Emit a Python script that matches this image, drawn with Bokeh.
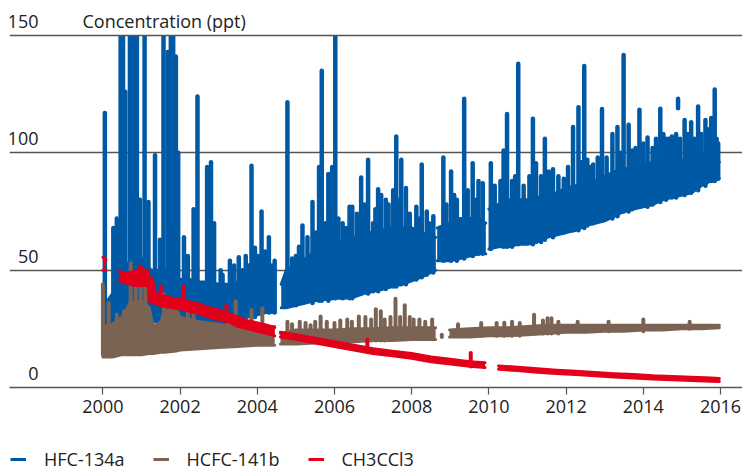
from bokeh.plotting import figure
from bokeh.layouts import column
from bokeh.models import Range1d, FixedTicker, Label, Legend, LegendItem, BoxAnnotation, Span
from bokeh.embed import file_html
from bokeh.resources import INLINE

nan = float("nan")

x_ticks = [2000, 2002, 2004, 2006, 2008, 2010, 2012, 2014, 2016]
y_ticks = [0, 50, 100, 150]
y_tick_labels = ["0", "50", "100", "150"]
y_title = "Concentration (ppt)"
series_names = ["HFC-134a", "HCFC-141b", "CH3CCl3"]

# ---------------- HFC-134a (dense band: lower/upper envelope) ----------------
hfc_years = [2000.0, 2000.25, 2000.5, 2000.75, 2001.0, 2001.25, 2001.5, 2001.75, 2002.0, 2002.25,
             2002.5, 2002.75, 2003.0, 2003.25, 2003.5, 2003.75, 2004.0, 2004.25, 2004.45, nan,
             2004.62, 2004.75, 2005.0, 2005.25, 2005.5, 2005.75, 2006.0, 2006.25, 2006.5, 2006.75,
             2007.0, 2007.25, 2007.5, 2007.75, 2008.0, 2008.25, 2008.5, 2008.62, nan,
             2008.66, 2009.0, 2009.25, 2009.5, 2009.75, 2009.92, nan,
             2010.0, 2010.25, 2010.5, 2010.75, 2011.0, 2011.25, 2011.5, 2011.75, 2012.0, 2012.25,
             2012.5, 2012.75, 2013.0, 2013.25, 2013.5, 2013.75, 2014.0, 2014.25, 2014.5, 2014.75,
             2015.0, 2015.25, 2015.5, 2015.75, 2015.97]
hfc_low = [27, 27, 27, 28, 28, 28, 28, 28, 28, 28,
           28, 28, 27, 28, 29, 30, 31, 32, 32, nan,
           34, 34, 35, 36, 37, 37.5, 38, 38, 38.5, 40,
           41, 42, 43, 44, 45.5, 47, 49, 50, nan,
           54, 54, 55, 56, 57, 57, nan,
           59, 60, 60, 61, 61, 62, 64, 65, 66, 67,
           69, 70, 71, 73, 75, 76, 77, 78, 80, 81,
           82, 83, 86, 88, 89]
hfc_high = [34, 40, 50, 55, 55, 50, 50, 50, 46, 46,
            45, 45, 44, 44, 45, 46, 47, 48, 46, nan,
            44, 50, 52, 55, 58, 60, 62, 62, 64, 66,
            66, 67, 68, 68, 68, 66, 65, 64, nan,
            68, 70, 72, 72, 72, 70, nan,
            76, 78, 80, 80, 80, 81, 82, 83, 85, 86,
            88, 88, 90, 92, 93, 94, 95, 96, 97, 97,
            97, 98, 99, 100, 96]
# peaks (year, from, to); 160 = beyond the top of the chart
hfc_spike_years = [2000.05, 2000.27, 2000.36, 2000.46, 2000.52, 2000.58, 2000.70, 2000.76, 2000.82, 2000.88,
                   2000.96, 2001.08, 2001.18, 2001.35, 2001.48, 2001.57, 2001.68, 2001.76, 2001.82, 2001.89,
                   2001.95, 2002.10, 2002.20, 2002.35, 2002.45, 2002.70, 2002.80, 2002.88, 2003.10, 2003.29,
                   2003.52, 2003.70, 2003.85, 2003.94, 2004.11, 2004.30, 2004.45, 2004.78, 2005.00, 2005.17,
                   2005.43, 2005.60, 2005.67, 2005.84, 2005.94, 2006.02, 2006.21, 2006.39, 2006.46, 2006.69,
                   2006.87, 2007.00, 2007.13, 2007.21, 2007.33, 2007.52, 2007.60, 2007.73, 2007.85, 2008.12,
                   2008.26, 2008.39, 2008.56, 2008.82, 2009.02, 2009.17, 2009.36, 2009.58, 2009.73, 2009.84,
                   2010.05, 2010.38, 2010.47, 2010.60, 2010.76, 2011.14, 2011.22, 2011.35, 2011.45, 2011.66,
                   2011.94, 2012.18, 2012.32, 2012.47, 2012.55, 2012.70, 2012.93, 2013.20, 2013.33, 2013.49,
                   2013.62, 2013.71, 2013.90, 2014.11, 2014.24, 2014.44, 2014.59, 2014.74, 2014.85, 2014.90,
                   2015.07, 2015.24, 2015.42, 2015.61, 2015.76, 2015.85, 2015.94,
                   2003.05, 2003.40, 2003.62, 2003.78, 2004.02, 2004.20, 2004.38,
                   2004.90, 2005.08, 2005.30, 2005.52, 2005.76, 2006.10, 2006.30, 2006.58, 2006.78, 2007.06,
                   2007.40, 2007.68, 2007.95, 2008.20, 2008.45, 2008.90, 2009.10, 2009.45, 2009.66, 2010.15,
                   2010.30, 2010.68, 2010.90, 2011.05, 2011.55, 2011.80, 2012.05, 2012.40, 2012.62, 2012.82,
                   2013.05, 2013.40, 2013.80, 2014.00, 2014.33, 2014.52, 2014.66, 2014.95, 2015.15, 2015.33,
                   2015.50, 2015.68, 2015.90]
hfc_spike_from = [28, 30, 30, 30, 30, 30, 30, 30, 30, 30,
                  30, 30, 30, 30, 30, 30, 30, 30, 30, 30,
                  30, 30, 30, 30, 30, 30, 30, 30, 30, 30,
                  30, 30, 30, 30, 32, 32, 32, 35, 35, 36,
                  36, 37, 37, 37, 38, 38, 38, 38, 38, 40,
                  40, 41, 41, 42, 42, 43, 43, 44, 44, 46,
                  47, 48, 49, 54, 54, 54, 55, 56, 57, 57,
                  59, 60, 60, 60, 61, 61, 62, 62, 63, 64,
                  66, 67, 67, 68, 69, 70, 71, 72, 73, 75,
                  75, 76, 77, 77, 78, 79, 80, 81, 81, 119,
                  82, 83, 84, 86, 88, 88, 89,
                  40, 40, 40, 40, 40, 40, 40,
                  45, 48, 50, 52, 54, 56, 58, 60, 62, 62,
                  62, 64, 64, 62, 60, 64, 66, 66, 66, 72,
                  74, 76, 76, 76, 78, 79, 80, 82, 84, 84,
                  86, 88, 90, 91, 92, 93, 93, 93, 94, 95,
                  96, 97, 96]
hfc_spike_to = [117, 68, 72, 160, 160, 126, 160, 160, 160, 160,
                80, 160, 79, 99, 63, 160, 143, 160, 160, 141,
                100, 64, 56, 76, 124, 94, 96, 70, 48, 54,
                55.5, 56, 94.5, 59.5, 75, 64, 54, 121.5, 56, 69,
                79, 94, 135, 91, 94, 160, 70, 77, 77, 89.5,
                97, 70, 84.5, 82, 80, 84, 107, 97, 85, 77,
                95, 75, 73, 98, 92, 80, 123, 95.6, 88, 87,
                95.6, 101, 116.5, 88, 138, 114.5, 95.6, 90, 106, 93,
                89, 111, 119.4, 137, 97, 95, 118.7, 108, 111, 141.7,
                112, 101, 118.4, 106.5, 102, 118.8, 106, 107, 108, 123,
                114, 113, 119.7, 114, 114.8, 127, 104,
                50, 52, 50, 52, 56, 58, 52,
                55, 60, 64, 66, 70, 72, 68, 74, 78, 76,
                78, 80, 74, 72, 70, 78, 82, 84, 80, 86,
                88, 90, 86, 90, 92, 90, 94, 96, 94, 98,
                98, 100, 102, 104, 106, 108, 106, 106, 108, 106,
                108, 110, 106]

# ---------------- HCFC-141b ----------------
hcfc_years = [2000.0, 2000.25, 2000.5, 2000.7, 2001.0, 2001.2, 2001.3, 2001.5, 2001.6, 2001.9,
              2002.0, 2002.5, 2003.0, 2003.5, 2004.0, 2004.45, nan,
              2004.6, 2005.0, 2005.5, 2006.0, 2006.5, 2007.0, 2007.5, 2008.0, 2008.62, nan,
              2008.98, 2009.5, 2010.0, 2010.5, 2011.0, 2011.5, 2012.0, 2012.5, 2013.0, 2013.5,
              2014.0, 2014.5, 2015.0, 2015.5, 2015.97]
hcfc_low = [13, 13, 14, 14, 14, 14.5, 14.5, 15, 15, 15.5,
            16, 16.5, 17, 17.5, 18, 18, nan,
            18.5, 18.5, 19, 19.5, 19.5, 20, 20, 20.5, 20.5, nan,
            21.5, 21.5, 22, 22, 22.5, 23, 23.5, 23.5, 24, 24,
            24.5, 24.5, 25, 25, 25.5]
hcfc_high = [26, 27, 30, 36, 37, 34, 26, 28, 33, 33,
             30, 28, 27, 26, 26, 26, nan,
             23, 24.5, 24.5, 24.5, 25, 25, 25.5, 25.5, 25.5, nan,
             24.5, 25, 25.5, 25.5, 26, 26.5, 26.5, 26.5, 26.5, 26.5,
             26.5, 26.5, 26.5, 26.5, 26.5]
hcfc_spike_years = [2000.00, 2000.15, 2000.36, 2000.55, 2000.72, 2000.85, 2000.98, 2001.10, 2001.58, 2001.75,
                    2002.20, 2002.35, 2003.44, 2003.85, 2004.13, 2004.78, 2005.38, 2005.64, 2006.33, 2006.63,
                    2007.07, 2007.58, 2007.82, 2008.05, 2008.53, 2008.78, 2010.40, 2011.17, 2011.52, 2011.62,
                    2014.00,
                    2004.90, 2005.10, 2005.25, 2005.50, 2005.80, 2006.00, 2006.15, 2006.45, 2006.80, 2006.95,
                    2007.20, 2007.30, 2007.45, 2007.70, 2007.95, 2008.20, 2008.35,
                    2009.20, 2009.80, 2010.20, 2010.60, 2010.80, 2011.40, 2011.80, 2012.30, 2013.10, 2015.20]
hcfc_spike_from = [14, 14, 14, 15, 15, 15, 15, 15, 16, 16,
                   17, 17, 18, 18, 19, 19, 20, 20, 20, 20,
                   20, 21, 21, 21, 21, 21.5, 22, 23, 23, 23,
                   24,
                   19, 19, 19, 20, 20, 20, 20, 20, 20, 20,
                   20, 20, 21, 21, 21, 21, 21,
                   22, 22, 22, 22, 22, 23, 23, 24, 24, 25]
hcfc_spike_to = [44, 36, 31, 32.5, 53, 44, 48, 47, 39.7, 38,
                 31.8, 33, 36.7, 33, 33.8, 28, 26.5, 30.3, 29, 30.3,
                 33.3, 37.8, 35, 29, 29, 22.5, 27.6, 31, 29.5, 29.5,
                 29,
                 27, 28, 27.5, 28, 28, 27.5, 28.5, 28, 30, 29,
                 32.5, 29, 30, 30, 30, 29, 28,
                 27, 27.5, 27.5, 28, 27.5, 28.5, 28, 28, 28, 28]

# ---------------- CH3CCl3 ----------------
ch3_years = [2000.0, 2000.08, nan,
             2000.43, 2000.6, 2000.8, 2001.0, 2001.17, 2001.22, 2001.4, 2001.6, 2001.8, 2002.0,
             2002.25, 2002.5, 2002.75, 2003.0, 2003.25, 2003.5, 2003.75, 2004.0, 2004.25, 2004.45, nan,
             2004.6, 2005.0, 2005.5, 2006.0, 2006.5, 2007.0, 2007.5, 2008.0, 2008.5, 2009.0,
             2009.5, 2009.9, nan,
             2010.25, 2010.75, 2011.25, 2011.75, 2012.25, 2012.75, 2013.25, 2013.75, 2014.25, 2014.75,
             2015.25, 2015.75, 2015.97]
ch3_low = [50, 50, nan,
           45.5, 44.5, 43.5, 43.5, 43.5, 36.5, 35.5, 34.5, 34, 33.5,
           32.5, 31.5, 30, 29, 28, 26, 25, 24, 23, 22, nan,
           21.5, 20.5, 19, 17.5, 16, 14.5, 13.5, 12.5, 11, 10,
           9, 8.5, nan,
           7.8, 7.2, 6.5, 6, 5.5, 5, 4.5, 4, 3.6, 3.3,
           3, 2.7, 2.6]
ch3_high = [55.5, 54.5, nan,
            49.5, 48.5, 49.5, 50.5, 49.5, 42, 40, 39, 38, 37.5,
            36.5, 35.5, 34, 33, 31.5, 30, 28.5, 27.5, 26.5, 25.5, nan,
            23.5, 22.5, 21, 19.5, 18, 16.5, 15.5, 14.5, 13, 12,
            11, 10.5, nan,
            9.2, 8.6, 8, 7.4, 6.9, 6.4, 5.9, 5.5, 5, 4.7,
            4.4, 4, 3.8]
ch3_spike_years = [2000.97, 2001.25, 2001.32, 2001.50, 2002.10, 2003.20, 2006.85, 2009.53]
ch3_spike_from = [44, 37, 37, 35, 33, 28, 15.5, 9]
ch3_spike_to = [51.7, 46.7, 44, 43, 43, 35, 20.5, 14.7]

BLUE = "#0059a4"
BROWN = "#7b6354"
RED = "#e2001a"
TEXT = "#222222"
GRID = "#555555"
FONT = "Open Sans"
FSIZE = "18px"

p = figure(width=742, height=430, output_backend="svg", toolbar_location=None,
           x_range=Range1d(1997.58, 2016.57), y_range=Range1d(0, 164.9),
           min_border_left=9, min_border_right=0, min_border_top=0, min_border_bottom=43)
p.outline_line_color = None
p.background_fill_color = "white"
p.border_fill_color = "white"


def segments(xs, lo, hi):
    out = []
    cur = ([], [], [])
    for x, a, b in zip(xs, lo, hi):
        if x != x:
            if cur[0]:
                out.append(cur)
            cur = ([], [], [])
            continue
        cur[0].append(x)
        cur[1].append(a)
        cur[2].append(b)
    if cur[0]:
        out.append(cur)
    return out


def draw_series(xs, lo, hi, sx, s0, s1, color, spike_w):
    for segx, seglo, seghi in segments(xs, lo, hi):
        p.varea(x=segx, y1=seglo, y2=seghi, fill_color=color)
        p.line(segx, seglo, line_color=color, line_width=3, line_cap="round", line_join="round")
        p.line(segx, seghi, line_color=color, line_width=3, line_cap="round", line_join="round")
    p.segment(x0=sx, y0=s0, x1=sx, y1=s1, line_color=color, line_width=spike_w, line_cap="round")


draw_series(hfc_years, hfc_low, hfc_high, hfc_spike_years, hfc_spike_from, hfc_spike_to, BLUE, 4.5)
draw_series(hcfc_years, hcfc_low, hcfc_high, hcfc_spike_years, hcfc_spike_from, hcfc_spike_to, BROWN, 4)
draw_series(ch3_years, ch3_low, ch3_high, ch3_spike_years, ch3_spike_from, ch3_spike_to, RED, 4)

# the chart's top is the 150 line: mask what rises above it
p.add_layout(BoxAnnotation(bottom=y_ticks[-1], fill_color="white", fill_alpha=1.0, line_color=None))
p.add_layout(Span(location=y_ticks[-1], dimension="width", line_color=GRID, line_width=1.5))

# axes / grid
p.yaxis.visible = False
p.xgrid.visible = False
p.ygrid.ticker = FixedTicker(ticks=[t for t in y_ticks[1:-1]])
p.ygrid.grid_line_color = GRID
p.ygrid.grid_line_width = 1.5

xa = p.xaxis[0]
xa.ticker = FixedTicker(ticks=x_ticks)
xa.axis_line_color = GRID
xa.axis_line_width = 1.5
xa.major_tick_line_color = GRID
xa.major_tick_line_width = 1.2
xa.major_tick_in = 0
xa.major_tick_out = 7
xa.minor_tick_line_color = None
xa.major_label_standoff = 5
xa.major_label_text_font = FONT
xa.major_label_text_font_size = FSIZE
xa.major_label_text_color = TEXT

for v, t in zip(y_ticks, y_tick_labels):
    p.add_layout(Label(x=29, x_units="screen", y=v, y_units="data", y_offset=14, text=t,
                       text_align="right", text_baseline="alphabetic", text_font=FONT,
                       text_font_size=FSIZE, text_color=TEXT))
p.add_layout(Label(x=73, x_units="screen", y=y_ticks[-1], y_units="data", y_offset=14, text=y_title,
                   text_align="left", text_baseline="alphabetic", text_font=FONT,
                   text_font_size=FSIZE, text_color=TEXT))

# legend strip below the chart
pl = figure(width=742, height=43, output_backend="svg", toolbar_location=None,
            x_range=Range1d(0, 1), y_range=Range1d(0, 1),
            min_border_left=0, min_border_right=0, min_border_top=0, min_border_bottom=0)
pl.axis.visible = False
pl.grid.visible = False
pl.outline_line_color = None
pl.border_fill_color = "white"
leg_r = [pl.line(x=[5, 6], y=[5, 6], line_color=c, line_width=3) for c in (BLUE, BROWN, RED)]
legend = Legend(items=[LegendItem(label=n, renderers=[r]) for n, r in zip(series_names, leg_r)],
                location=(1, 2), orientation="horizontal", padding=0, margin=0,
                spacing=28, glyph_width=16, glyph_height=20, label_height=20, label_standoff=18,
                label_text_font=FONT, label_text_font_size=FSIZE, label_text_color=TEXT,
                border_line_color=None, background_fill_alpha=0)
pl.add_layout(legend, "center")

page = column(p, pl, spacing=0)
open("out.html", "w").write(file_html(page, INLINE))
